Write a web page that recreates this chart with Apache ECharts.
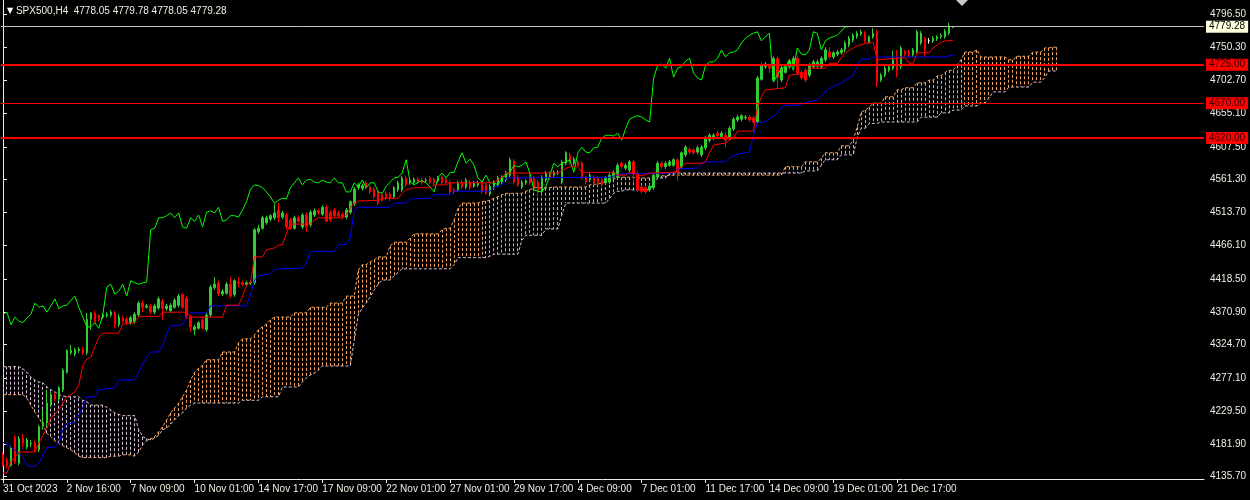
<!DOCTYPE html>
<html><head><meta charset="utf-8">
<script src="https://cdn.jsdelivr.net/npm/echarts@6/dist/echarts.min.js"></script>
<style>html,body{margin:0;padding:0;background:#000;}#c{width:1250px;height:500px;}</style>
</head><body><div id="c"></div>
<script>
const symbolTitle = 'SPX500,H4';
const lastQuote = [4778.05, 4779.78, 4778.05, 4779.28];
const bidPrice = 4779.28;
const levels = [4725, 4670, 4620];
const timeLabels = ['31 Oct 2023','2 Nov 16:00','7 Nov 09:00','10 Nov 01:00','14 Nov 17:00','17 Nov 09:00','22 Nov 01:00','27 Nov 01:00','29 Nov 17:00','4 Dec 09:00','7 Dec 01:00','11 Dec 17:00','14 Dec 09:00','19 Dec 01:00','21 Dec 17:00'];
const labelBars = [0,16,32,48,64,80,96,112,128,144,160,176,192,208,224];
const yTicks = [4796.50,4750.30,4702.70,4655.10,4607.50,4561.30,4513.70,4466.10,4418.50,4370.90,4324.70,4277.10,4229.50,4181.90,4135.70];

// candles: [open, close, low, high]
const candles = [
[4167,4152,4150,4171],[4160,4152,4148,4163],[4152,4177,4150,4180],[4192,4157,4154,4195],[4155,4190,4152,4194],
[4191,4184,4178,4197],[4178,4188,4175,4191],[4183,4184,4178,4188],[4184,4177,4171,4187],[4174,4207,4171,4210],
[4210,4213,4203,4231],[4213,4241,4207,4260],[4238,4253,4235,4257],[4253,4247,4244,4255],[4247,4263,4244,4265],
[4260,4288,4257,4291],[4285,4316,4283,4318],[4313,4316,4310,4324],[4311,4317,4308,4320],[4316,4318,4313,4321],
[4318,4313,4310,4321],[4313,4361,4310,4370],[4361,4370,4346,4371],[4370,4357,4356,4373],[4366,4361,4358,4368],
[4364,4367,4361,4370],[4366,4368,4363,4371],[4367,4371,4364,4374],[4370,4353,4348,4373],[4353,4364,4350,4368],
[4363,4358,4356,4366],[4361,4356,4353,4364],[4356,4363,4353,4366],[4357,4368,4354,4371],[4367,4384,4364,4387],
[4384,4378,4371,4388],[4378,4380,4376,4383],[4380,4371,4368,4383],[4371,4380,4368,4383],[4377,4390,4374,4393],
[4387,4376,4360,4390],[4376,4380,4373,4383],[4373,4381,4370,4384],[4378,4388,4376,4391],[4381,4394,4378,4397],
[4396,4378,4376,4398],[4391,4364,4361,4394],[4364,4350,4343,4367],[4346,4350,4338,4353],[4348,4356,4346,4358],
[4360,4348,4346,4363],[4346,4367,4343,4370],[4367,4407,4364,4410],[4406,4411,4403,4421],[4413,4397,4394,4416],
[4397,4401,4394,4404],[4398,4411,4396,4414],[4411,4394,4391,4421],[4396,4416,4393,4418],[4414,4413,4407,4421],
[4413,4411,4408,4416],[4411,4413,4408,4416],[4413,4414,4410,4417],[4413,4489,4410,4491],[4486,4491,4483,4496],
[4491,4506,4489,4509],[4499,4506,4496,4509],[4504,4509,4501,4511],[4506,4513,4503,4526],[4517,4506,4500,4527],
[4507,4513,4504,4516],[4510,4493,4489,4513],[4503,4491,4489,4506],[4491,4506,4489,4509],[4506,4501,4499,4509],
[4493,4510,4490,4513],[4510,4493,4486,4513],[4496,4514,4493,4517],[4510,4516,4507,4519],[4516,4513,4510,4519],
[4511,4521,4509,4524],[4521,4501,4500,4524],[4514,4503,4500,4517],[4517,4509,4506,4520],[4513,4509,4506,4516],
[4511,4507,4504,4514],[4507,4517,4504,4520],[4514,4529,4511,4531],[4526,4547,4523,4550],[4549,4553,4546,4556],
[4548,4552,4545,4555],[4556,4549,4546,4559],[4550,4543,4540,4553],[4547,4536,4533,4550],[4543,4527,4524,4546],
[4539,4531,4529,4541],[4541,4534,4531,4544],[4540,4533,4530,4543],[4536,4549,4533,4551],[4546,4556,4543,4559],
[4546,4563,4543,4566],[4563,4553,4550,4566],[4556,4560,4553,4563],[4556,4561,4553,4564],[4561,4557,4554,4564],
[4560,4556,4553,4563],[4559,4560,4556,4563],[4563,4557,4554,4566],[4561,4556,4553,4564],[4559,4563,4556,4566],
[4564,4556,4553,4567],[4561,4556,4553,4564],[4557,4543,4540,4560],[4546,4543,4540,4549],[4546,4556,4543,4559],
[4557,4550,4547,4560],[4550,4560,4547,4563],[4557,4549,4546,4560],[4551,4556,4549,4559],[4553,4556,4550,4559],
[4556,4543,4540,4559],[4553,4541,4539,4556],[4540,4551,4537,4554],[4549,4557,4546,4560],[4553,4563,4550,4566],
[4557,4564,4554,4567],[4560,4570,4557,4573],[4567,4589,4564,4592],[4587,4557,4554,4590],[4564,4553,4550,4567],
[4550,4557,4547,4560],[4556,4559,4553,4561],[4567,4556,4553,4570],[4563,4550,4547,4566],[4557,4543,4536,4560],
[4543,4564,4540,4567],[4560,4570,4557,4573],[4570,4563,4560,4573],[4567,4571,4564,4574],[4570,4571,4567,4574],
[4557,4586,4554,4589],[4584,4599,4581,4601],[4596,4584,4581,4599],[4584,4590,4581,4593],[4586,4581,4579,4589],
[4584,4563,4560,4587],[4563,4557,4554,4566],[4560,4567,4557,4570],[4564,4556,4553,4567],[4563,4556,4553,4566],
[4560,4553,4550,4563],[4556,4563,4553,4566],[4557,4567,4554,4570],[4564,4571,4561,4574],[4564,4581,4561,4584],
[4584,4579,4576,4587],[4577,4581,4574,4584],[4574,4586,4571,4589],[4586,4570,4556,4589],[4570,4546,4543,4573],
[4550,4544,4541,4553],[4549,4543,4540,4551],[4546,4551,4543,4554],[4549,4567,4546,4570],[4564,4584,4561,4587],
[4584,4579,4576,4587],[4579,4584,4576,4587],[4581,4586,4579,4589],[4581,4589,4579,4591],[4589,4571,4559,4591],
[4579,4599,4576,4601],[4596,4607,4593,4610],[4604,4600,4597,4607],[4603,4599,4596,4606],[4600,4606,4597,4609],
[4596,4607,4593,4610],[4606,4620,4603,4623],[4617,4624,4614,4627],[4620,4624,4617,4627],[4627,4623,4620,4630],
[4622,4627,4619,4630],[4624,4617,4607,4629],[4620,4634,4617,4637],[4633,4647,4630,4650],[4646,4650,4643,4653],
[4647,4652,4644,4654],[4649,4650,4646,4653],[4650,4646,4643,4653],[4649,4643,4640,4652],[4643,4706,4640,4709],
[4704,4724,4702,4727],[4722,4726,4719,4729],[4722,4720,4713,4727],[4703,4734,4700,4737],[4734,4707,4692,4737],
[4703,4720,4700,4723],[4714,4722,4712,4724],[4722,4730,4719,4733],[4724,4734,4722,4737],[4734,4713,4710,4737],
[4714,4706,4703,4717],[4717,4703,4700,4720],[4710,4724,4707,4727],[4722,4729,4719,4732],[4723,4729,4720,4732],
[4722,4734,4719,4737],[4732,4746,4729,4750],[4743,4736,4734,4750],[4736,4742,4733,4744],[4740,4743,4737,4746],
[4742,4746,4739,4749],[4746,4756,4743,4759],[4753,4763,4750,4766],[4760,4767,4757,4770],[4765,4770,4762,4773],
[4769,4772,4766,4775],[4770,4759,4756,4773],[4757,4765,4755,4767],[4765,4770,4762,4777],[4772,4700,4693,4775],
[4703,4710,4700,4713],[4710,4720,4707,4723],[4717,4722,4714,4724],[4720,4732,4717,4745],[4736,4717,4707,4746],
[4722,4749,4719,4752],[4743,4740,4737,4746],[4743,4739,4736,4746],[4739,4746,4736,4749],[4743,4772,4740,4775],
[4756,4770,4753,4773],[4762,4746,4736,4765],[4759,4759,4755,4763],[4759,4763,4756,4766],[4762,4765,4759,4767],
[4765,4767,4762,4770],[4765,4773,4762,4776],[4770,4779,4767,4785],[4778.05,4779.28,4778.05,4779.78]
];

// Tenkan-sen (red) vertices: [bar, price]
const tenkan = [[0,4141],[1,4141],[2,4157],[4,4171],[8,4171],[9,4184],[10,4195],[11,4205],[12,4220],[14,4231],[15,4241],[16,4250],[18,4257],[19,4267],[20,4295],[21,4304],[22,4307],[23,4321],[24,4335],[25,4341],[29,4341],[30,4354],[33,4356],[34,4365],[39,4365],[40,4371],[46,4371],[47,4364],[55,4364],[56,4381],[59,4381],[60,4393],[61,4410],[62,4413],[63,4450],[65,4450],[66,4460],[68,4463],[69,4467],[70,4467],[71,4484],[72,4497],[77,4497],[78,4503],[79,4506],[85,4506],[86,4510],[87,4520],[88,4527],[89,4530],[94,4531],[95,4534],[99,4534],[100,4541],[101,4546],[103,4549],[107,4549],[108,4553],[111,4553],[112,4556],[122,4556],[123,4557],[124,4560],[125,4564],[126,4570],[139,4570],[140,4574],[142,4579],[144,4579],[145,4571],[153,4571],[154,4567],[156,4567],[157,4571],[160,4566],[162,4570],[168,4571],[169,4574],[170,4579],[171,4584],[175,4584],[176,4586],[177,4599],[178,4610],[181,4613],[182,4617],[183,4621],[184,4630],[188,4630],[189,4664],[190,4679],[191,4689],[196,4692],[197,4710],[201,4713],[202,4720],[206,4720],[207,4727],[209,4727],[210,4735],[211,4742],[213,4749],[214,4752],[216,4755],[218,4757],[219,4732],[226,4735],[227,4727],[228,4727],[229,4742],[232,4742],[233,4749],[234,4753],[235,4757],[236,4759],[238,4760]];

// Kijun-sen (blue) vertices: [bar, price]
const kijun = [[0,4185],[2,4178],[3,4174],[5,4163],[6,4152],[7,4150],[8,4151],[9,4155],[10,4167],[11,4177],[13,4178],[14,4184],[15,4203],[16,4211],[17,4212],[18,4214],[19,4224],[20,4235],[21,4250],[23,4250],[24,4260],[28,4263],[29,4274],[33,4274],[34,4285],[35,4297],[36,4307],[37,4314],[39,4314],[40,4324],[41,4341],[42,4351],[45,4353],[46,4365],[47,4370],[51,4370],[52,4380],[61,4380],[62,4396],[63,4417],[64,4423],[67,4426],[68,4431],[69,4433],[75,4434],[76,4441],[77,4457],[78,4458],[83,4458],[84,4467],[86,4468],[87,4478],[88,4517],[89,4521],[97,4521],[98,4527],[101,4527],[102,4533],[107,4534],[108,4539],[112,4539],[113,4544],[122,4544],[123,4550],[125,4553],[126,4563],[152,4564],[155,4569],[168,4570],[169,4576],[174,4577],[175,4583],[176,4586],[181,4586],[182,4592],[184,4597],[186,4599],[187,4600],[188,4624],[189,4642],[191,4643],[192,4647],[194,4656],[195,4664],[196,4667],[199,4667],[202,4672],[204,4674],[205,4679],[206,4687],[208,4694],[209,4696],[210,4699],[212,4706],[213,4710],[214,4724],[215,4733],[217,4733],[218,4736],[236,4736],[238,4739]];

// Senkou Span A per bar (0..264)
const spanA = [
4253,4253,4253,4253,4253,4253,4248,4238,4228,4220,
4210,4198,4193,4187,4183,4180,4177,4174,4170,4165,
4163,4163,4163,4163,4163,4163,4163,4165,4165,4165,
4167,4167,4167,4165,4171,4181,4187,4190,4193,4200,
4207,4217,4227,4234,4241,4250,4260,4274,4285,4291,
4295,4303,4303,4303,4303,4314,4314,4314,4314,4327,
4333,4333,4333,4338,4346,4350,4354,4360,4364,4364,
4364,4364,4364,4370,4370,4370,4370,4378,4378,4378,
4378,4378,4384,4384,4384,4384,4394,4394,4394,4431,
4439,4439,4443,4446,4450,4450,4450,4466,4471,4471,
4471,4471,4477,4483,4483,4483,4483,4483,4483,4483,
4489,4491,4491,4503,4520,4527,4527,4527,4527,4527,
4529,4530,4531,4534,4536,4539,4541,4541,4541,4541,
4541,4544,4546,4549,4549,4549,4549,4549,4550,4550,
4550,4550,4550,4550,4550,4550,4550,4553,4554,4554,
4556,4557,4560,4561,4564,4564,4564,4564,4564,4563,
4563,4563,4563,4564,4566,4566,4566,4567,4567,4567,
4567,4567,4567,4567,4567,4567,4567,4567,4567,4567,
4567,4567,4567,4567,4567,4567,4567,4567,4567,4567,
4567,4567,4567,4567,4567,4567,4579,4579,4579,4579,
4579,4586,4586,4586,4586,4591,4599,4599,4599,4599,
4609,4609,4609,4617,4636,4657,4660,4664,4670,4670,
4670,4679,4679,4679,4689,4689,4692,4692,4692,4699,
4699,4699,4703,4703,4709,4709,4714,4717,4717,4724,
4732,4743,4743,4743,4746,4736,4736,4736,4736,4736,
4736,4736,4732,4732,4737,4737,4737,4737,4743,4743,
4743,4749,4749,4750,4750
];

// Senkou Span B per bar (0..264)
const spanB = [
4293,4293,4293,4293,4293,4290,4285,4278,4274,4271,
4270,4264,4260,4257,4253,4251,4250,4250,4250,4250,
4245,4243,4238,4238,4238,4238,4235,4231,4227,4225,
4223,4223,4223,4223,4203,4193,4190,4188,4191,4195,
4203,4205,4211,4217,4223,4227,4234,4238,4241,4241,
4241,4241,4241,4241,4241,4241,4241,4241,4241,4241,
4245,4245,4245,4245,4245,4250,4250,4250,4250,4250,
4264,4264,4264,4264,4264,4271,4277,4281,4284,4288,
4294,4294,4294,4294,4294,4294,4294,4294,4331,4367,
4377,4384,4393,4403,4411,4417,4417,4417,4423,4428,
4433,4433,4433,4433,4433,4433,4433,4433,4433,4433,
4433,4433,4433,4439,4449,4449,4449,4449,4449,4449,
4449,4449,4451,4454,4454,4454,4454,4454,4454,4454,
4474,4481,4481,4481,4481,4481,4490,4490,4490,4490,
4510,4527,4527,4527,4527,4527,4527,4527,4527,4527,
4527,4527,4534,4541,4544,4544,4546,4546,4546,4546,
4546,4546,4546,4556,4563,4563,4563,4570,4570,4570,
4570,4570,4570,4570,4570,4570,4570,4570,4570,4570,
4570,4570,4570,4570,4570,4570,4570,4570,4570,4570,
4570,4570,4570,4570,4570,4570,4570,4570,4570,4570,
4570,4573,4573,4573,4573,4581,4589,4589,4589,4589,
4596,4596,4596,4596,4621,4634,4634,4641,4641,4641,
4643,4643,4643,4643,4643,4643,4643,4643,4643,4643,
4650,4650,4650,4650,4650,4656,4656,4656,4660,4660,
4660,4666,4666,4666,4666,4670,4670,4677,4686,4686,
4686,4686,4693,4693,4693,4693,4693,4693,4700,4700,
4700,4707,4716,4716,4716
];

const CHIKOU_SHIFT = 26;
const FONT = 'Liberation Sans';
const TXT = '#EEEEE2';

const candleData = candles.map((c, i) => {
  const item = { value: [i, c[0], c[1], c[2], c[3]] };
  if (c[0] === c[1]) item.itemStyle = { color: '#FFFFFF', color0: '#FFFFFF', borderColor: '#FFFFFF', borderColor0: '#FFFFFF', borderColorDoji: '#FFFFFF' };
  return item;
});
const chikouData = candles.slice(CHIKOU_SHIFT).map((c, k) => [k, c[1]]);
const cloudData = spanA.map((a, i) => [i, a, spanB[i]]);
const spanAData = spanA.map((a, i) => [i, a]);
const spanBData = spanB.map((b, i) => [i, b]);

const levelWidths = [2, 1, 2];
const markData = [{
  yAxis: bidPrice,
  lineStyle: { color: '#C0C0C0', width: 1, type: 'solid' },
  label: { show: true, position: 'end', distance: 2, formatter: p => p.value.toFixed(2), color: '#000', backgroundColor: '#FFFFE0', padding: [1, 3, 0, 3], fontSize: 10, fontFamily: FONT, lineHeight: 11 }
}].concat(levels.map((v, k) => ({
  yAxis: v,
  lineStyle: { color: '#FF0000', width: levelWidths[k], type: 'solid' },
  label: { show: true, position: 'end', distance: 2, formatter: p => p.value.toFixed(2), color: '#3a0000', backgroundColor: '#FF0000', padding: [1, 3, 0, 3], fontSize: 10, fontFamily: FONT, lineHeight: 11 }
})));

const chart = echarts.init(document.getElementById('c'), null, { renderer: 'canvas' });
chart.setOption({
  backgroundColor: '#000000',
  animation: false,
  title: {
    text: '{t|▼} ' + symbolTitle + '  ' + lastQuote.map(v => v.toFixed(2)).join(' '),
    left: 2, top: 1,
    textStyle: { color: TXT, fontSize: 10, fontFamily: FONT, fontWeight: 'normal', rich: { t: { fontSize: 8, color: '#FFFFFF', fontFamily: 'DejaVu Sans' } } }
  },
  grid: { left: -1.5, right: 46, top: 0, bottom: 21, containLabel: false },
  xAxis: {
    type: 'value', min: -0.5, max: 300.875,
    axisLine: { show: true, onZero: false, lineStyle: { color: TXT, width: 1 } },
    axisTick: { show: true, length: 4, lineStyle: { color: TXT }, customValues: labelBars },
    axisLabel: { show: true, customValues: labelBars, formatter: v => timeLabels[labelBars.indexOf(Math.round(v))] || '', align: 'left', color: TXT, fontSize: 10, fontFamily: FONT, margin: 5 },
    splitLine: { show: false }
  },
  yAxis: {
    type: 'value', position: 'right', min: 4132.4, max: 4817.5,
    axisLine: { show: true, lineStyle: { color: TXT, width: 1 } },
    axisTick: { show: true, length: 4, lineStyle: { color: TXT }, customValues: yTicks },
    axisLabel: { show: true, customValues: yTicks, formatter: v => v.toFixed(2), color: TXT, fontSize: 10, fontFamily: FONT, margin: 6 },
    splitLine: { show: false }
  },
  graphic: [{ type: 'polygon', shape: { points: [[956, 0], [968, 0], [962, 6]] }, style: { fill: '#C8C8C8' }, z: 100 }],
  series: [
    {
      type: 'custom', name: 'cloud', z: 1, silent: true, clip: true,
      data: cloudData, encode: { x: 0, y: [1, 2] },
      renderItem: (params, api) => {
        const i = api.value(0), a = api.value(1), b = api.value(2);
        const pa = api.coord([i, a]), pb = api.coord([i, b]);
        const x = Math.round(pa[0] - 0.5) + 0.5;
        return { type: 'line', shape: { x1: x, y1: pa[1], x2: x, y2: pb[1] }, style: { stroke: a >= b ? '#F4A460' : '#D8BFD8', lineWidth: 1, lineDash: [3, 2] } };
      }
    },
    { type: 'line', name: 'Senkou A', z: 2, data: spanAData, showSymbol: false, silent: true, lineStyle: { color: '#F4A460', width: 1, type: [3, 2] } },
    { type: 'line', name: 'Senkou B', z: 2, data: spanBData, showSymbol: false, silent: true, lineStyle: { color: '#D8BFD8', width: 1, type: [3, 2] } },
    {
      type: 'candlestick', name: symbolTitle, z: 3, silent: true,
      data: candleData, encode: { x: 0, y: [1, 2, 3, 4] },
      barWidth: 2,
      itemStyle: { color: '#32CD32', color0: '#FF0000', borderColor: '#32CD32', borderColor0: '#FF0000', borderWidth: 1 }
    },
    { type: 'line', name: 'Chikou', z: 4, data: chikouData, showSymbol: false, silent: true, lineStyle: { color: '#00FF00', width: 1 } },
    { type: 'line', name: 'Kijun', z: 4, data: kijun, showSymbol: false, silent: true, lineStyle: { color: '#0000FF', width: 1 } },
    { type: 'line', name: 'Tenkan', z: 4, data: tenkan, showSymbol: false, silent: true, lineStyle: { color: '#FF0000', width: 1 } },
    {
      type: 'line', name: 'levels', z: 10, data: [], silent: true,
      markLine: { symbol: ['none', 'none'], silent: true, animation: false, data: markData }
    }
  ]
});
</script>
</body></html>
